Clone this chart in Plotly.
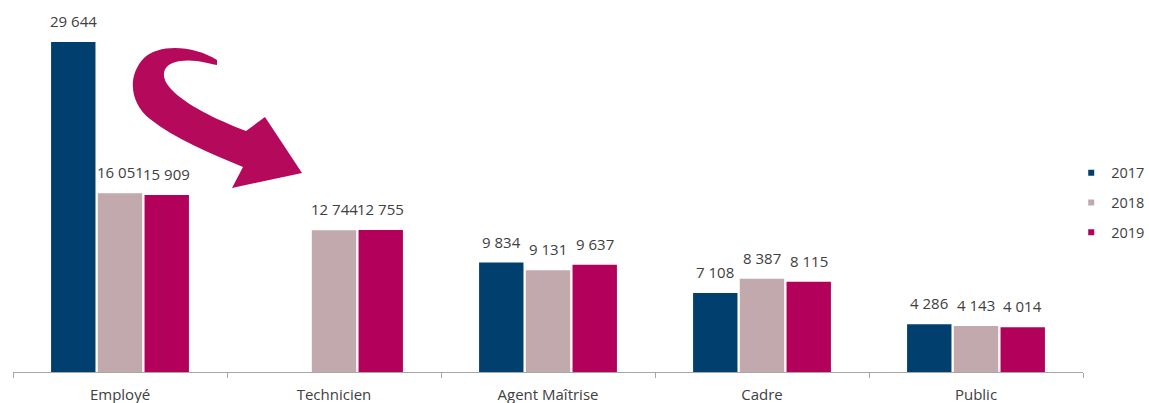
import plotly.graph_objects as go

# Effectifs par catégorie et par année
categories = ["Employé", "Technicien", "Agent Maîtrise", "Cadre", "Public"]
years = ["2017", "2018", "2019"]
values_2017 = [29644, None, 9834, 7108, 4286]
values_2018 = [16051, 12744, 9131, 8387, 4143]
values_2019 = [15909, 12755, 9637, 8115, 4014]

series = [values_2017, values_2018, values_2019]
colors = ["#003f6e", "#c1a9ae", "#b3005a"]

W, H = 1149, 403
ML, MR, MT, MB = 13, 66, 0, 31
PW, PH = W - ML - MR, H - MT - MB
BARGAP = 0.345
BARGROUPGAP = 0.05

# horizontal spacing of the bars inside a group, in pixels
slot = PW / len(categories) * (1 - BARGAP) / len(series)


def fmt(v):
    return f"{v:,}".replace(",", " ")


fig = go.Figure()
for i, (name, vals, col) in enumerate(zip(years, series, colors)):
    fig.add_trace(go.Bar(
        x=categories, y=vals, name=name, marker_color=col,
        marker_line_width=0, showlegend=False,
    ))
    # small square markers for the legend
    fig.add_trace(go.Scatter(
        x=[None], y=[None], mode="markers", name=name, legendgroup=name,
        marker=dict(symbol="square", size=6, color=col),
    ))
    # value labels above each bar
    for cat, v in zip(categories, vals):
        if v is None:
            continue
        fig.add_annotation(
            x=cat, y=v, xref="x", yref="y", text=fmt(v), showarrow=False,
            xanchor="center", yanchor="bottom",
            xshift=(i - (len(series) - 1) / 2) * slot, yshift=9,
            font=dict(size=15, color="#404040"),
        )


def px(x, y):
    """Pixel position -> paper coordinates."""
    return (x - ML) / PW, (MT + PH - y) / PH


def path(cmds):
    out = []
    for c in cmds:
        op, pts = c[0], c[1:]
        coords = " ".join("%.5f,%.5f" % px(*p) for p in pts)
        out.append(op + coords)
    return " ".join(out) + " Z"


# curved brush arrow pointing from Employé to Technicien
arrow = path([
    ("M", (217, 60)),
    ("C", (195, 46), (160, 43), (144, 58)),
    ("C", (126, 77), (131, 104), (150, 119)),
    ("C", (175, 139), (210, 153), (243, 167)),
    ("L", (232, 188)),
    ("L", (302, 173)),
    ("L", (265, 117)),
    ("L", (246, 131)),
    ("C", (215, 119), (186, 105), (171, 89)),
    ("C", (158, 75), (164, 63), (180, 61)),
    ("C", (195, 59), (207, 63), (217, 65)),
])
fig.add_shape(type="path", path=arrow, xref="paper", yref="paper",
              fillcolor="#b5095c", line=dict(width=0), layer="above")

fig.update_layout(
    width=W, height=H,
    margin=dict(l=ML, r=MR, t=MT, b=MB, autoexpand=False),
    paper_bgcolor="white", plot_bgcolor="white",
    font=dict(family="Open Sans, Segoe UI, sans-serif", size=15, color="#404040"),
    barmode="group", bargap=BARGAP, bargroupgap=BARGROUPGAP,
    showlegend=True,
    legend=dict(x=0.989, xanchor="left", y=0.455, yanchor="middle",
                traceorder="grouped", tracegroupgap=8,
                font=dict(size=14.5, color="#404040"), itemwidth=30,
                bgcolor="rgba(0,0,0,0)"),
    xaxis=dict(showline=True, linecolor="#a6a6a6", linewidth=1,
               ticks="outside", tickson="boundaries", ticklen=5,
               tickcolor="#a6a6a6", tickfont=dict(size=15, color="#404040"),
               ticklabelstandoff=9, showgrid=False),
    yaxis=dict(visible=False, range=[0, 33420], showgrid=False),
)

fig.write_html("out.html")
